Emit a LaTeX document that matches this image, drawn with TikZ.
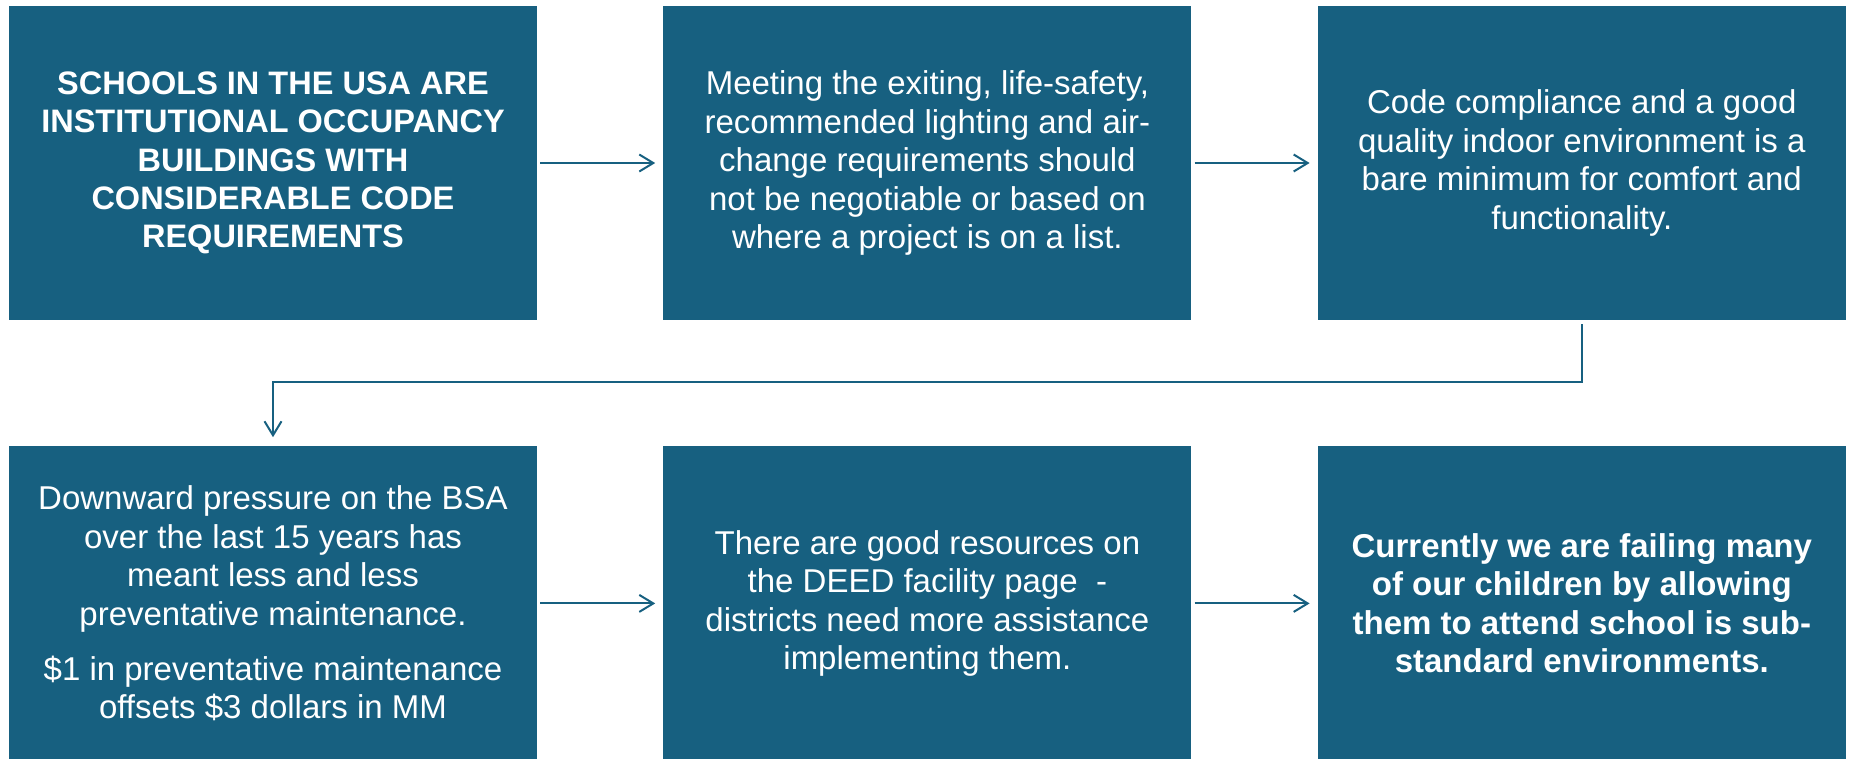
\documentclass[tikz,border=0pt]{standalone}
\usepackage{fontspec}
\setmainfont{Liberation Sans}
\usetikzlibrary{arrows.meta, positioning}
\definecolor{deedblue}{RGB}{23,96,128}

\tikzset{
	panel/.style={fill=deedblue, text=white, minimum width=528pt, minimum height=314pt,
		inner sep=0pt, align=center, font=\fontsize{33pt}{38.5pt}\selectfont},
	flow/.style={draw=deedblue, line width=2pt,
		-{Straight Barb[length=14pt, width=17pt, line width=2pt]}},
}

\begin{document}
\begin{tikzpicture}
	\useasboundingbox (0,0) rectangle (1849pt,-758pt);
	% top row
	\node[panel, font=\bfseries\fontsize{32.5pt}{38.3pt}\selectfont] (schools) at (273pt,-163pt)
		{SCHOOLS IN THE USA ARE\\INSTITUTIONAL OCCUPANCY\\BUILDINGS WITH\\CONSIDERABLE CODE\\REQUIREMENTS};
	\node[panel, right=126pt of schools] (meeting)
		{Meeting the exiting, life-safety,\\recommended lighting and air-\\change requirements should\\not be negotiable or based on\\where a project is on a list.};
	\node[panel, right=126pt of meeting] (compliance)
		{Code compliance and a good\\quality indoor environment is a\\bare minimum for comfort and\\functionality.};
	% bottom row
	\node[panel, below=126pt of schools] (pressure)
		{Downward pressure on the BSA\\over the last 15 years has\\meant less and less\\preventative maintenance.\\[16.5pt]\$1 in preventative maintenance\\offsets \$3 dollars in MM};
	\node[panel, right=126pt of pressure] (resources)
		{There are good resources on\\the DEED facility page~~-\\districts need more assistance\\implementing them.};
	\node[panel, right=126pt of resources, font=\bfseries\fontsize{33pt}{38.5pt}\selectfont] (failing)
		{Currently we are failing many\\of our children by allowing\\them to attend school is sub-\\standard environments.};
	% connectors
	\draw[flow, shorten <=3pt, shorten >=8pt] (schools) -- (meeting);
	\draw[flow, shorten <=3pt, shorten >=8pt] (meeting) -- (compliance);
	\draw[flow, shorten <=4pt, shorten >=9pt] (compliance.south) -- ++(0,-62pt) -| (pressure.north);
	\draw[flow, shorten <=3pt, shorten >=8pt] (pressure) -- (resources);
	\draw[flow, shorten <=3pt, shorten >=8pt] (resources) -- (failing);
\end{tikzpicture}
\end{document}
